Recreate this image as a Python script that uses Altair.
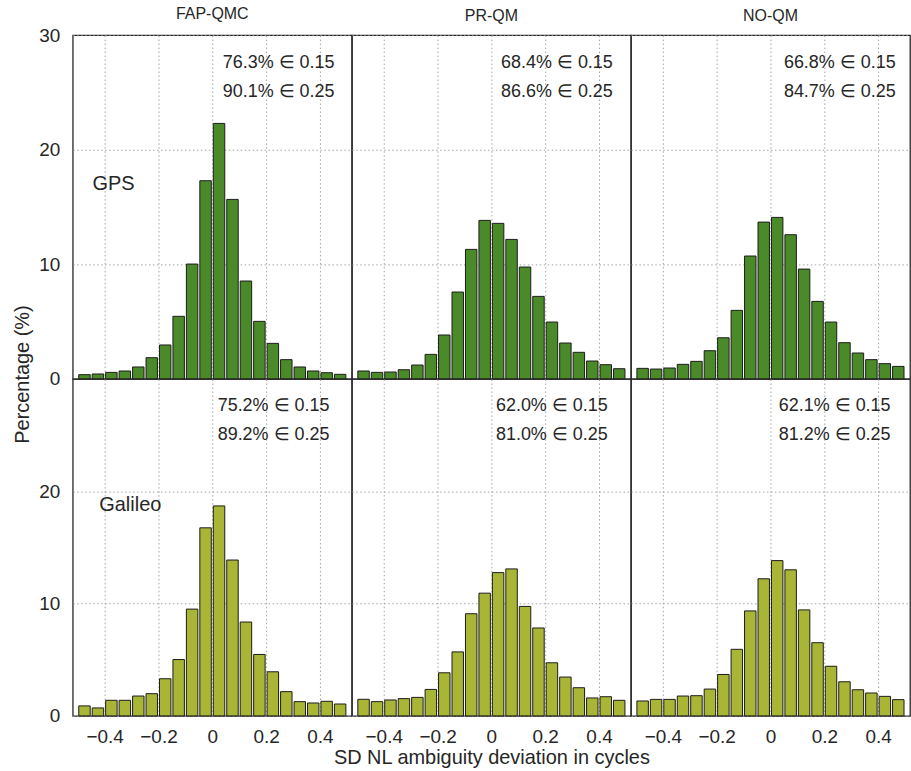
import altair as alt
import pandas as pd

# Bin centres of the 0.05-cycle histogram bins from -0.5 to 0.5
bin_centers = [-0.475, -0.425, -0.375, -0.325, -0.275, -0.225, -0.175, -0.125,
               -0.075, -0.025, 0.025, 0.075, 0.125, 0.175, 0.225, 0.275,
               0.325, 0.375, 0.425, 0.475]

methods = ["FAP-QMC", "PR-QM", "NO-QM"]
systems = ["GPS", "Galileo"]

# Percentage of SD NL ambiguities per bin
gps_fap = [0.38, 0.44, 0.58, 0.70, 1.05, 1.86, 2.97, 5.47, 10.03, 17.3,
           22.3, 15.67, 8.55, 5.03, 3.11, 1.69, 1.05, 0.70, 0.55, 0.41]
gps_pr = [0.70, 0.58, 0.61, 0.81, 1.22, 2.15, 3.84, 7.59, 11.31, 13.84,
          13.58, 12.18, 9.77, 7.21, 4.97, 3.14, 2.33, 1.57, 1.25, 0.90]
gps_no = [0.93, 0.87, 0.96, 1.28, 1.54, 2.47, 3.60, 5.99, 10.73, 13.69,
          14.10, 12.59, 9.59, 6.77, 4.97, 3.17, 2.27, 1.69, 1.34, 1.10]
gal_fap = [0.89, 0.71, 1.39, 1.39, 1.77, 1.98, 3.31, 5.02, 9.51, 16.75,
           18.70, 13.88, 8.36, 5.47, 3.93, 2.16, 1.27, 1.15, 1.30, 1.06]
gal_pr = [1.48, 1.27, 1.42, 1.54, 1.65, 2.36, 3.84, 5.70, 9.10, 10.93,
          12.76, 13.09, 9.75, 7.83, 4.73, 3.46, 2.51, 1.60, 1.71, 1.39]
gal_no = [1.33, 1.47, 1.47, 1.77, 1.80, 2.39, 3.69, 5.93, 9.35, 12.21,
          13.83, 13.01, 9.44, 6.52, 4.42, 3.04, 2.33, 2.04, 1.74, 1.45]

# Share of ambiguities within 0.15 and 0.25 cycles
within_015 = {"GPS": [76.3, 68.4, 66.8], "Galileo": [75.2, 62.0, 62.1]}
within_025 = {"GPS": [90.1, 86.6, 84.7], "Galileo": [89.2, 81.0, 81.2]}

series = {
    ("GPS", "FAP-QMC"): gps_fap, ("GPS", "PR-QM"): gps_pr, ("GPS", "NO-QM"): gps_no,
    ("Galileo", "FAP-QMC"): gal_fap, ("Galileo", "PR-QM"): gal_pr, ("Galileo", "NO-QM"): gal_no,
}

bar_colors = {"GPS": "#4a8a28", "Galileo": "#a9b535"}
FONT = "Liberation Sans"
TEXT = "#262626"
PANEL_W = 280
PANEL_H = {"GPS": 345, "Galileo": 338}

# annotation anchors (data units)
note_x = {("GPS", "FAP-QMC"): 0.039, ("GPS", "PR-QM"): 0.036, ("GPS", "NO-QM"): 0.05,
          ("Galileo", "FAP-QMC"): 0.02, ("Galileo", "PR-QM"): 0.017, ("Galileo", "NO-QM"): 0.031}
system_label_pos = {"GPS": (-0.445, 17.05), "Galileo": (-0.42, 18.8)}

x_scale = alt.Scale(domain=[-0.5, 0.5], nice=False)
y_scale = alt.Scale(domain=[0, 30], nice=False)


def panel(system, method, col):
    bottom = system == "Galileo"
    left = col == 0

    x_axis = alt.Axis(
        values=[-0.4, -0.2, 0, 0.2, 0.4], grid=True, ticks=False, domain=False,
        labels=bottom, format=".1~f", labelPadding=12, labelFontSize=19,
        title="SD NL ambiguity deviation in cycles" if (bottom and col == 1) else None,
        titlePadding=1,
    )
    y_axis = alt.Axis(
        values=[0, 10, 20] if bottom else [0, 10, 20, 30], grid=True, ticks=False,
        domain=False, labels=left, labelPadding=13, labelFontSize=19,
        title="Percentage (%)" if (left and not bottom) else None,
        titleY=340, titlePadding=6,
    )
    x_enc = alt.X("center:Q", scale=x_scale, axis=x_axis)
    y_enc = alt.Y("pct:Q", scale=y_scale, axis=y_axis)

    df = pd.DataFrame({"center": bin_centers, "pct": series[(system, method)]})
    bars = alt.Chart(df).mark_bar(
        size=11.5, color=bar_colors[system], stroke="#1c1c1c", strokeWidth=1
    ).encode(x=x_enc, y=y_enc)

    i = methods.index(method)
    notes = pd.DataFrame({
        "center": [note_x[(system, method)]] * 2,
        "pct": [27.6, 25.0],
        "label": [f"{within_015[system][i]:.1f}% \u2208 0.15",
                  f"{within_025[system][i]:.1f}% \u2208 0.25"],
    })
    note_layer = alt.Chart(notes).mark_text(
        align="left", baseline="middle", fontSize=18, font=FONT, color=TEXT
    ).encode(x=x_enc, y=y_enc, text="label:N")
    layers = [bars, note_layer]

    if left:
        lx, ly = system_label_pos[system]
        sys_df = pd.DataFrame({"center": [lx], "pct": [ly], "label": [system]})
        layers.append(
            alt.Chart(sys_df).mark_text(
                align="left", baseline="middle", fontSize=20, font=FONT, color=TEXT
            ).encode(x=x_enc, y=y_enc, text="label:N")
        )

    props = dict(width=PANEL_W, height=PANEL_H[system])
    if not bottom:
        # the left panel's "30" label already reaches above the frame
        props["title"] = alt.TitleParams(
            method, fontSize=16, fontWeight="normal", font=FONT, color=TEXT,
            anchor="middle", offset=4 if left else 11,
        )
    return alt.layer(*layers).properties(**props)


panels = [panel(s, m, c) for s in systems for c, m in enumerate(methods)]

chart = alt.concat(
    *panels, columns=3, spacing=0, bounds="flush", align="each"
).properties(
    padding={"left": 12, "top": 4, "right": 0, "bottom": 0},
).configure_view(
    stroke="#262626", strokeWidth=1.3
).configure_axis(
    labelFont=FONT, titleFont=FONT, labelColor=TEXT, titleColor=TEXT,
    titleFontSize=20, titleFontWeight="normal",
    gridColor="#9a9a9a", gridDash=[1.5, 2.5], gridWidth=1, gridOpacity=0.9,
)

chart.save("out.html", embed_options={"renderer": "svg", "actions": False})
